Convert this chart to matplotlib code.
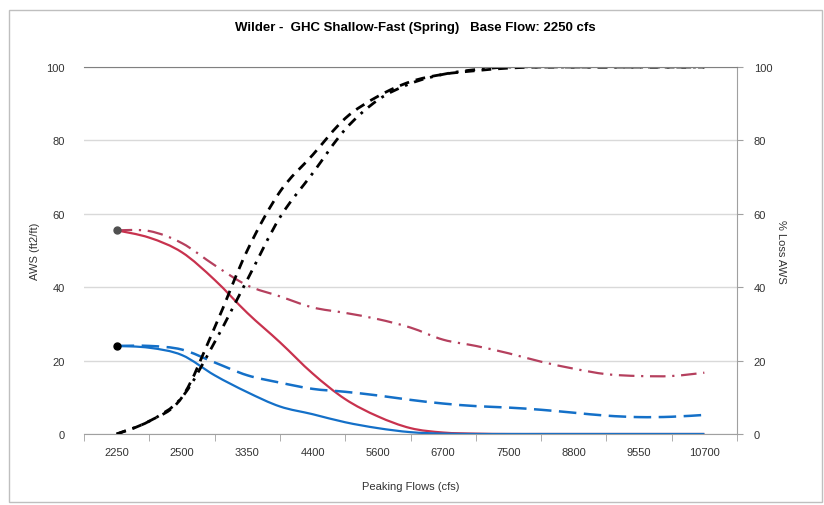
import numpy as np
import matplotlib
matplotlib.use("Agg")
import matplotlib.pyplot as plt
from matplotlib.patches import Rectangle, PathPatch
from matplotlib.path import Path

plt.rcParams['font.family'] = ['Liberation Sans', 'DejaVu Sans']

# Peaking flow categories shown on the x axis
flow_labels = ['2250', '2500', '3350', '4400', '5600', '6700', '7500', '8800', '9550', '10700']

# Series read at half-category steps (19 values, 2250 .. 10700)
aws_red_solid = [55.5, 53.5, 49.5, 42, 33, 25, 16.5, 9.5, 4.8, 1.6,
                 0.4, 0.1, 0, 0, 0, 0, 0, 0, 0]
aws_red_dashdot = [55.5, 55.3, 52, 46, 40.5, 37.5, 34.5, 33, 31.3, 29,
                   25.7, 24, 22, 19.7, 17.8, 16.3, 15.8, 15.8, 16.7]
aws_blue_solid = [24, 23.5, 21.5, 16, 11.4, 7.5, 5.4, 3.2, 1.6, 0.5,
                  0.1, 0, 0, 0, 0, 0, 0, 0, 0]
aws_blue_dashed = [24, 24, 23, 19.5, 16, 14, 12.3, 11.5, 10.5, 9.3,
                   8.3, 7.6, 7.2, 6.6, 5.8, 5.0, 4.6, 4.7, 5.2]
loss_dashed = [0, 3.5, 10, 29, 50, 66, 76, 86, 92, 96,
               98, 99, 99.7, 100, 100, 100, 100, 100, 100]
loss_dashdot = [0, 3.5, 10, 25, 42, 59, 71, 83, 91, 95.5,
                98, 99.3, 100, 100, 100, 100, 100, 100, 100]

x = np.arange(len(aws_red_solid)) * 0.5

RED = '#C8324E'
RED2 = '#B5405E'
BLUE = '#1470C8'
GRID = '#D9D9D9'
AXIS = '#A0A0A0'


# Excel-style smoothed line (Catmull-Rom drawn as cubic Bezier segments)
def smooth_line(ax, xs, ys, **kw):
    pts = np.column_stack([xs, ys]).astype(float)
    verts = [pts[0]]
    codes = [Path.MOVETO]
    n = len(pts)
    for i in range(n - 1):
        p0 = pts[max(i - 1, 0)]
        p1 = pts[i]
        p2 = pts[i + 1]
        p3 = pts[min(i + 2, n - 1)]
        c1 = p1 + (p2 - p0) / 6.0
        c2 = p2 - (p3 - p1) / 6.0
        verts += [c1, c2, p2]
        codes += [Path.CURVE4] * 3
    patch = PathPatch(Path(verts, codes), fill=False, capstyle='butt',
                      joinstyle='round', **kw)
    ax.add_patch(patch)


fig = plt.figure(figsize=(8.24, 5.06), dpi=100)
fig.patch.set_facecolor('white')
# outer chart border
fig.patches.append(Rectangle((9 / 824, 1 - 503 / 506), 813 / 824, 492 / 506,
                             transform=fig.transFigure, fill=False,
                             edgecolor='#BFBFBF', linewidth=1))

ax = fig.add_axes([84 / 824, 1 - 435 / 506, 653 / 824, 367 / 506])
ax2 = ax.twinx()

# AWS curves (left axis)
smooth_line(ax, x, aws_red_dashdot, edgecolor=RED2, lw=1.6, linestyle=(0, (7, 3, 1, 3)))
smooth_line(ax, x, aws_red_solid, edgecolor=RED, lw=1.6)
smooth_line(ax, x, aws_blue_dashed, edgecolor=BLUE, lw=1.8, linestyle=(0, (7, 3)))
smooth_line(ax, x, aws_blue_solid, edgecolor=BLUE, lw=1.6)
ax.plot(x[0], aws_red_solid[0], 'o', color='#505050', ms=5)
ax.plot(x[0], aws_blue_solid[0], 'o', color='black', ms=5)

# % loss curves (right axis)
smooth_line(ax2, x, loss_dashed, edgecolor='black', lw=2.0, linestyle=(0, (3.5, 2.5)))
smooth_line(ax2, x, loss_dashdot, edgecolor='black', lw=2.0, linestyle=(0, (3.5, 2.5, 1, 2.5)))

for a in (ax, ax2):
    a.set_xlim(-0.5, 9.5)
    a.set_ylim(0, 100)
    a.set_yticks([0, 20, 40, 60, 80, 100])
    for s in a.spines.values():
        s.set_visible(False)

ax.yaxis.grid(True, color=GRID, lw=1)
ax.set_axisbelow(True)
ax.spines['bottom'].set_visible(True)
ax.spines['bottom'].set_color(AXIS)
ax2.spines['right'].set_visible(True)
ax2.spines['right'].set_color(AXIS)
ax2.spines['top'].set_visible(True)
ax2.spines['top'].set_color('#808080')

ax.set_xticks(range(len(flow_labels)))
ax.set_xticklabels(flow_labels)
ax.set_xticks(np.arange(-0.5, 10, 1), minor=True)
ax.tick_params(axis='x', which='major', length=0, pad=9, labelsize=8, colors='#333333')
ax.tick_params(axis='x', which='minor', length=5, color=AXIS)
ax.tick_params(axis='y', length=0, pad=14, labelsize=8, colors='#333333')
ax2.tick_params(axis='y', length=4, color=AXIS, pad=8, labelsize=8, colors='#333333')

ax.set_xlabel('Peaking Flows (cfs)', fontsize=8, color='#333333', labelpad=18)
ax.set_ylabel('AWS (ft2/ft)', fontsize=8, color='#333333', labelpad=4)
ax2.set_ylabel('% Loss AWS', fontsize=8, color='#333333', rotation=270, labelpad=10)

fig.text(0.504, 0.945, 'Wilder -  GHC Shallow-Fast (Spring)   Base Flow: 2250 cfs',
         ha='center', va='center', fontsize=9.5, fontweight='bold')

fig.savefig('out.png', dpi=100)
